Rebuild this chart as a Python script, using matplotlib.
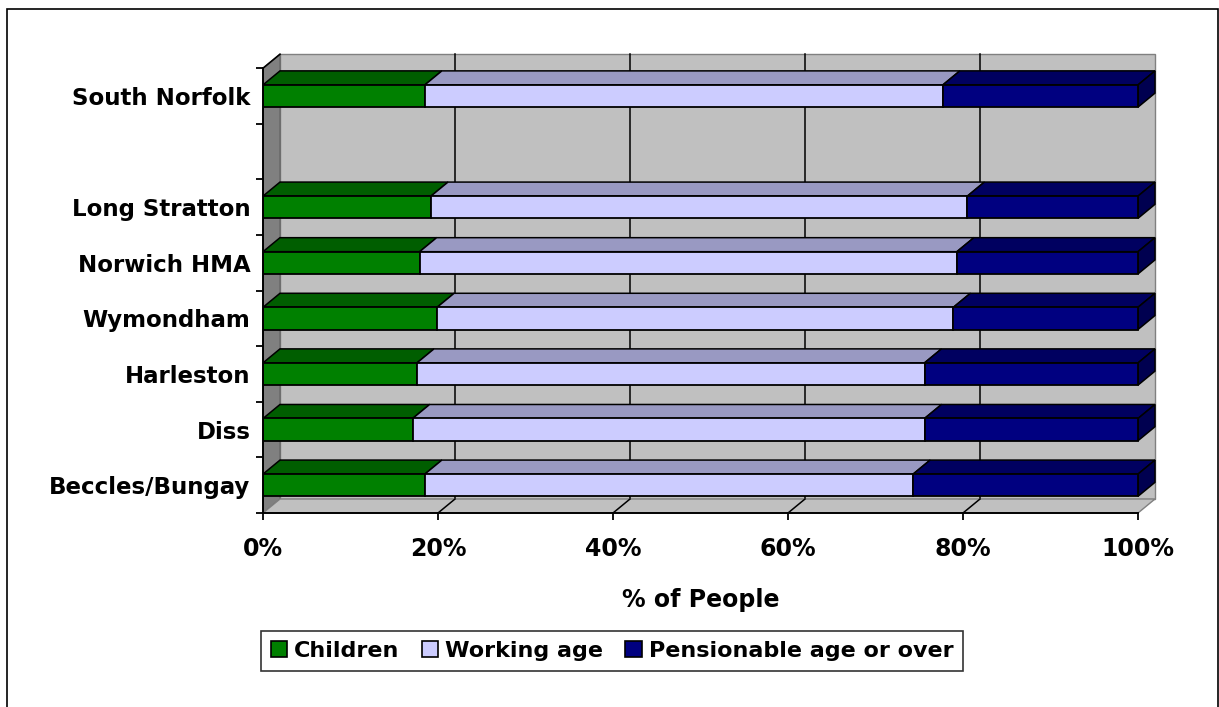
import numpy as np
import matplotlib; matplotlib.use("Agg")
import matplotlib.pyplot as plt
from matplotlib.patches import Polygon, Rectangle, Patch

places = ['Beccles/Bungay', 'Diss', 'Harleston', 'Wymondham', 'Norwich HMA',
          'Long Stratton', '', 'South Norfolk']
children = [18.5, 17.1, 17.6, 19.9, 17.9, 19.2, 0, 18.5]
working = [55.8, 58.5, 58.0, 59.0, 61.4, 61.3, 0, 59.2]
pension = [25.7, 24.4, 24.4, 21.1, 20.7, 19.5, 0, 22.3]
series = ['Children', 'Working age', 'Pensionable age or over']
front_cols = ['#008000', '#CCCCFF', '#000080']
top_cols = ['#005E00', '#9999C2', '#000060']
side_col = '#000050'
xticks = [0, 20, 40, 60, 80, 100]

plt.rcParams['font.family'] = 'DejaVu Sans'
plt.rcParams['font.weight'] = 'bold'

W, H = 1219, 707
fig = plt.figure(figsize=(W / 100, H / 100), dpi=100)
# outer chart frame
fig.patches.append(Rectangle((7 / W, -0.02), (1218 - 7) / W, 1 - 9 / H + 0.02,
                             transform=fig.transFigure, fill=False,
                             edgecolor='black', linewidth=1.2))

# px per unit: 8.75 px per percent, 55.6 px per category slot
xmax, ytop = 103.0, 7.8
x0px, y0px = 263, 513
ax = fig.add_axes([x0px / W, 1 - y0px / H, xmax * 8.75 / W, (ytop + 0.5) * 55.6 / H])
ax.set_xlim(0, xmax)
ax.set_ylim(-0.5, ytop)
ax.patch.set_visible(False)

n = len(places)
dx, dy = 17 / 8.75, 14 / 55.6   # depth offset of the 3D box
ylo, yhi = -0.5, n - 0.5
edge_gray = '#808080'

# back wall with gridlines
ax.add_patch(Rectangle((dx, ylo + dy), 100, yhi - ylo, facecolor='#C0C0C0',
                       edgecolor=edge_gray, linewidth=1, zorder=0))
for t in xticks[1:-1]:
    ax.plot([t + dx, t + dx], [ylo + dy, yhi + dy], color='black', lw=1.1, zorder=0.5)
# left wall
ax.add_patch(Polygon([(0, ylo), (dx, ylo + dy), (dx, yhi + dy), (0, yhi)],
                     facecolor='#808080', edgecolor='#606060', linewidth=0.8, zorder=0.6))
# floor
ax.add_patch(Polygon([(0, ylo), (100, ylo), (100 + dx, ylo + dy), (dx, ylo + dy)],
                     facecolor='#C0C0C0', edgecolor=edge_gray, linewidth=1, zorder=0.6))
for t in xticks[1:-1]:
    ax.plot([t, t + dx], [ylo, ylo + dy], color='black', lw=1.1, zorder=0.7)
ax.plot([0, dx], [yhi, yhi + dy], color='black', lw=1.2, zorder=0.8)

# stacked 3D bars
h = 0.4
y = np.arange(n)
left = np.zeros(n)
for vals, name, fc, tc in zip([children, working, pension], series, front_cols, top_cols):
    vals = np.array(vals, dtype=float)
    for yi, l, v in zip(y, left, vals):
        if v <= 0:
            continue
        yt = yi + h / 2
        ax.add_patch(Polygon([(l, yt), (l + v, yt), (l + v + dx, yt + dy), (l + dx, yt + dy)],
                             facecolor=tc, edgecolor='black', linewidth=1.1, zorder=2))
    ax.barh(y[vals > 0], vals[vals > 0], height=h, left=left[vals > 0], color=fc,
            edgecolor='black', linewidth=1.3, zorder=3, label=name)
    left = left + vals
for yi, tot in zip(y, left):
    if tot <= 0:
        continue
    ax.add_patch(Polygon([(tot, yi - h / 2), (tot + dx, yi - h / 2 + dy),
                          (tot + dx, yi + h / 2 + dy), (tot, yi + h / 2)],
                         facecolor=side_col, edgecolor='black', linewidth=1.1, zorder=2))

# axes
for s in ['top', 'right']:
    ax.spines[s].set_visible(False)
ax.spines['left'].set_bounds(ylo, yhi)
ax.spines['bottom'].set_bounds(0, 100)
for s in ['left', 'bottom']:
    ax.spines[s].set_linewidth(1.4)
    ax.spines[s].set_zorder(4)
ax.set_yticks(y)
ax.set_yticklabels(places, fontsize=16.5, fontweight='bold')
ax.set_yticks(np.arange(ylo, yhi + 0.01, 1), minor=True)
ax.tick_params(axis='y', which='major', length=0, pad=9)
ax.tick_params(axis='y', which='minor', length=5, width=1.3, direction='out')
ax.set_xticks(xticks)
ax.set_xticklabels([f'{t}%' for t in xticks], fontsize=17, fontweight='bold')
ax.tick_params(axis='x', length=5, width=1.3, direction='out', pad=12)
ax.set_xlabel('% of People', fontsize=17, fontweight='bold')
ax.xaxis.set_label_coords(50 / xmax, -(588 - y0px) / ((ytop + 0.5) * 55.6))

handles = [Patch(facecolor=c, edgecolor='black', linewidth=1.2, label=s)
           for c, s in zip(front_cols, series)]
leg = fig.legend(handles=handles, loc='center', bbox_to_anchor=(612 / W, 1 - 651 / H),
                 ncol=3, frameon=True, fancybox=False, fontsize=16,
                 handlelength=0.75, handleheight=0.75, handletextpad=0.3,
                 columnspacing=1.0, borderpad=0.45)
leg.get_frame().set_edgecolor('black')
leg.get_frame().set_linewidth(1.2)
for t in leg.get_texts():
    t.set_fontweight('bold')

fig.savefig('out.png', dpi=100)
